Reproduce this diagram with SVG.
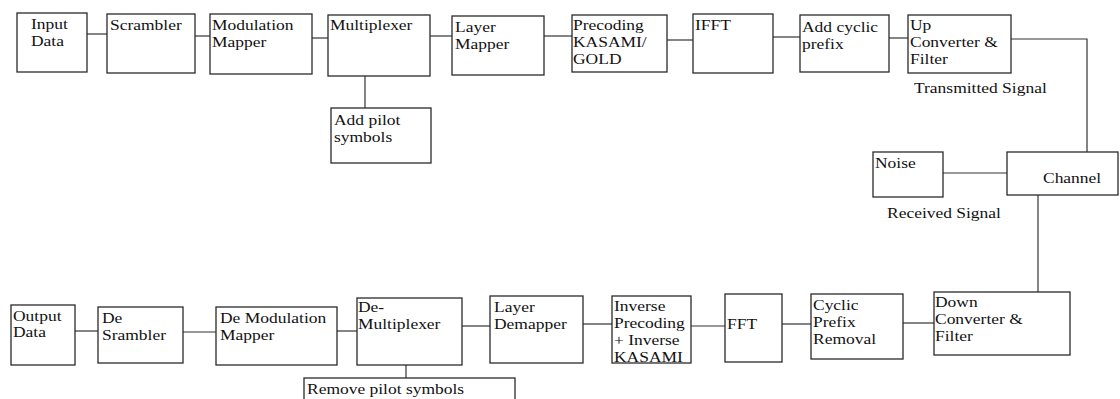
<svg xmlns="http://www.w3.org/2000/svg" width="1120" height="399" viewBox="0 0 1120 399">
<style>
  .box{fill:#fff;stroke:#2a2a2a;stroke-width:1.3}
  .t{font-family:"Liberation Serif","Times New Roman","DejaVu Serif",serif;font-size:15.2px;fill:#111}
  .c{fill:none;stroke:#333;stroke-width:1.2}
</style>
<rect width="1120" height="399" fill="#fff"/>
<g id="connectors">
  <path class="c" d="M87 34H107"/>
  <path class="c" d="M195 36H210"/>
  <path class="c" d="M312 38H328"/>
  <path class="c" d="M430 36H452"/>
  <path class="c" d="M365 76V108"/>
  <path class="c" d="M544 36H572"/>
  <path class="c" d="M667 40H693"/>
  <path class="c" d="M773 37H800"/>
  <path class="c" d="M889 38H908"/>
  <path class="c" d="M1011 39H1087V152"/>
  <path class="c" d="M943 173H1007"/>
  <path class="c" d="M1038 195V292"/>
  <path class="c" d="M934 323H903"/>
  <path class="c" d="M811 324H782"/>
  <path class="c" d="M725 326H691"/>
  <path class="c" d="M612 324H583"/>
  <path class="c" d="M490 326H462"/>
  <path class="c" d="M406 365V378"/>
  <path class="c" d="M357 331H337"/>
  <path class="c" d="M216 332H183"/>
  <path class="c" d="M98 331H75"/>
</g>
<g id="input-data"><rect class="box" x="17" y="13" width="70" height="59"/><text class="t" transform="matrix(1.15 0 0 1 31 29)">Input</text><text class="t" transform="matrix(1.15 0 0 1 31 46)">Data</text></g>
<g id="scrambler"><rect class="box" x="107" y="14" width="88" height="59"/><text class="t" transform="matrix(1.15 0 0 1 110 30)">Scrambler</text></g>
<g id="modulation-mapper"><rect class="box" x="210" y="14" width="102" height="60"/><text class="t" transform="matrix(1.15 0 0 1 212 30)">Modulation</text><text class="t" transform="matrix(1.15 0 0 1 212 47)">Mapper</text></g>
<g id="multiplexer"><rect class="box" x="328" y="15" width="102" height="61"/><text class="t" transform="matrix(1.15 0 0 1 330 30)">Multiplexer</text></g>
<g id="add-pilot"><rect class="box" x="331" y="108" width="100" height="55"/><text class="t" transform="matrix(1.15 0 0 1 334 125)">Add pilot</text><text class="t" transform="matrix(1.15 0 0 1 334 142)">symbols</text></g>
<g id="layer-mapper"><rect class="box" x="452" y="16" width="92" height="59"/><text class="t" transform="matrix(1.15 0 0 1 455 32)">Layer</text><text class="t" transform="matrix(1.15 0 0 1 455 49)">Mapper</text></g>
<g id="precoding"><rect class="box" x="572" y="15" width="95" height="57"/><text class="t" transform="matrix(1.15 0 0 1 573 30)">Precoding</text><text class="t" transform="matrix(1.15 0 0 1 573 47)">KASAMI/</text><text class="t" transform="matrix(1.15 0 0 1 573 64)">GOLD</text></g>
<g id="ifft"><rect class="box" x="693" y="14" width="80" height="59"/><text class="t" transform="matrix(1.15 0 0 1 695 30)">IFFT</text></g>
<g id="add-cyclic-prefix"><rect class="box" x="800" y="15" width="89" height="57"/><text class="t" transform="matrix(1.15 0 0 1 802 32)">Add cyclic</text><text class="t" transform="matrix(1.15 0 0 1 802 49)">prefix</text></g>
<g id="up-converter"><rect class="box" x="908" y="15" width="103" height="58"/><text class="t" transform="matrix(1.15 0 0 1 910 30)">Up</text><text class="t" transform="matrix(1.15 0 0 1 910 47)">Converter &amp;</text><text class="t" transform="matrix(1.15 0 0 1 910 64)">Filter</text></g>
<g id="transmitted-label"><text class="t" transform="matrix(1.15 0 0 1 914 93)">Transmitted Signal</text></g>
<g id="noise"><rect class="box" x="873" y="152" width="70" height="45"/><text class="t" transform="matrix(1.15 0 0 1 875 168)">Noise</text></g>
<g id="channel"><rect class="box" x="1007" y="152" width="111" height="43"/><text class="t" transform="matrix(1.15 0 0 1 1043 183)">Channel</text></g>
<g id="received-label"><text class="t" transform="matrix(1.15 0 0 1 887 218)">Received Signal</text></g>
<g id="down-converter"><rect class="box" x="934" y="292" width="136" height="63"/><text class="t" transform="matrix(1.15 0 0 1 935 307)">Down</text><text class="t" transform="matrix(1.15 0 0 1 935 324)">Converter &amp;</text><text class="t" transform="matrix(1.15 0 0 1 935 341)">Filter</text></g>
<g id="cyclic-prefix-removal"><rect class="box" x="811" y="294" width="92" height="65"/><text class="t" transform="matrix(1.15 0 0 1 813 310)">Cyclic</text><text class="t" transform="matrix(1.15 0 0 1 813 327)">Prefix</text><text class="t" transform="matrix(1.15 0 0 1 813 344)">Removal</text></g>
<g id="fft"><rect class="box" x="725" y="294" width="57" height="68"/><text class="t" transform="matrix(1.15 0 0 1 727 329)">FFT</text></g>
<g id="inverse-precoding"><text class="t" transform="matrix(1.15 0 0 1 614 311)">Inverse</text><text class="t" transform="matrix(1.15 0 0 1 614 328)">Precoding</text><text class="t" transform="matrix(1.15 0 0 1 614 345)">+ Inverse</text><text class="t" transform="matrix(1.15 0 0 1 614 362)">KASAMI</text><rect class="box" x="612" y="296" width="79" height="67" style="fill:none"/></g>
<g id="layer-demapper"><rect class="box" x="490" y="296" width="93" height="67"/><text class="t" transform="matrix(1.15 0 0 1 494 312)">Layer</text><text class="t" transform="matrix(1.15 0 0 1 494 329)">Demapper</text></g>
<g id="de-multiplexer"><rect class="box" x="357" y="298" width="105" height="67"/><text class="t" transform="matrix(1.15 0 0 1 358 312)">De-</text><text class="t" transform="matrix(1.15 0 0 1 358 329)">Multiplexer</text></g>
<g id="remove-pilot"><rect class="box" x="304" y="378" width="211" height="30"/><text class="t" transform="matrix(1.15 0 0 1 307 394)">Remove pilot symbols</text></g>
<g id="de-modulation-mapper"><rect class="box" x="216" y="307" width="121" height="58"/><text class="t" transform="matrix(1.15 0 0 1 220 323)">De Modulation</text><text class="t" transform="matrix(1.15 0 0 1 220 340)">Mapper</text></g>
<g id="de-scrambler"><rect class="box" x="98" y="307" width="85" height="56"/><text class="t" transform="matrix(1.15 0 0 1 102 323)">De</text><text class="t" transform="matrix(1.15 0 0 1 102 340)">Srambler</text></g>
<g id="output-data"><rect class="box" x="11" y="305" width="64" height="60"/><text class="t" transform="matrix(1.15 0 0 1 13 321)">Output</text><text class="t" transform="matrix(1.15 0 0 1 13 337)">Data</text></g>
</svg>
